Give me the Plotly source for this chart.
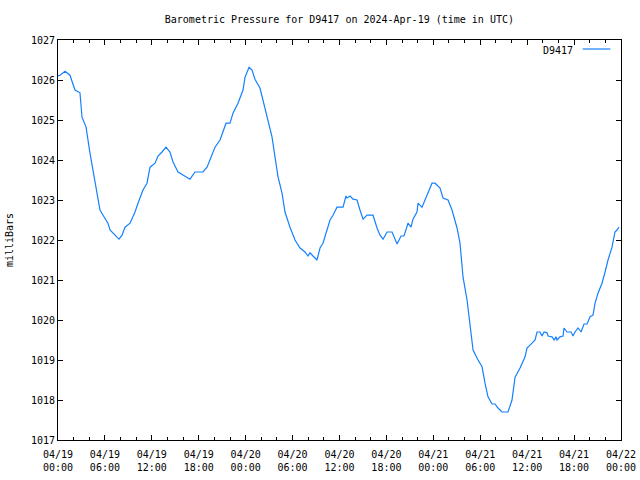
import datetime as dt
import plotly.graph_objects as go

# Hours since 2024-04-19 00:00 UTC and pressure (mbar)
hours = [0.0, 0.26, 0.9, 1.53, 2.17, 2.81, 3.07, 3.58, 4.09, 4.73, 5.37, 5.76, 6.39, 6.65,
         7.29, 7.8, 8.19, 8.57, 9.21, 9.85, 10.23, 10.87, 11.38, 11.77, 12.41, 12.79,
         13.3, 13.81, 14.32, 14.71, 15.35, 15.99, 16.88, 17.52, 18.54, 19.06, 19.44,
         20.08, 20.72, 21.49, 22.0, 22.38, 23.02, 23.66, 23.92, 24.43, 24.81, 25.19,
         25.83, 26.22, 26.47, 26.86, 27.37, 27.75, 28.14, 28.65, 29.03, 29.67, 30.31,
         30.95, 31.59, 31.97, 32.23, 32.61, 33.12, 33.51, 33.89, 34.4, 34.79, 35.17,
         35.68, 36.45, 36.83, 36.96, 37.35, 37.73, 38.24, 38.62, 39.01, 39.52, 40.29,
         40.8, 41.18, 41.57, 42.08, 42.72, 43.36, 43.87, 44.25, 44.76, 45.15, 45.4,
         45.91, 46.04, 46.55, 47.19, 47.83, 48.22, 48.86, 49.24, 49.88, 50.39, 51.03,
         51.41, 51.8, 52.31, 52.69, 53.08, 53.72, 54.23, 54.61, 54.99, 55.51, 55.89,
         56.27, 56.79, 57.55, 58.06, 58.45, 59.09, 59.73, 59.98, 60.62, 61.01, 61.26,
         61.64, 61.9, 62.16, 62.54, 62.67, 63.18, 63.44, 63.69, 63.82, 64.2, 64.59,
         64.71, 65.1, 65.61, 65.86, 66.12, 66.5, 66.89, 67.27, 67.66, 68.04, 68.42,
         68.68, 69.06, 69.57, 69.96, 70.34, 70.85, 71.23, 71.49, 71.74]
pressure = [1026.1, 1026.12, 1026.22, 1026.12, 1025.75, 1025.68, 1025.07, 1024.83, 1024.17,
            1023.5, 1022.75, 1022.62, 1022.42, 1022.25, 1022.12, 1022.02, 1022.12, 1022.32,
            1022.42, 1022.7, 1022.92, 1023.25, 1023.42, 1023.82, 1023.92, 1024.1, 1024.2,
            1024.32, 1024.2, 1023.95, 1023.7, 1023.62, 1023.52, 1023.7, 1023.7, 1023.82,
            1024.0, 1024.32, 1024.5, 1024.92, 1024.92, 1025.17, 1025.42, 1025.75, 1026.07,
            1026.32, 1026.25, 1026.02, 1025.8, 1025.5, 1025.25, 1025.0, 1024.58, 1024.08,
            1023.58, 1023.17, 1022.7, 1022.32, 1022.0, 1021.8, 1021.7, 1021.6, 1021.68,
            1021.6, 1021.5, 1021.8, 1021.92, 1022.25, 1022.5, 1022.62, 1022.82, 1022.82,
            1023.1, 1023.05, 1023.1, 1023.02, 1023.0, 1022.75, 1022.52, 1022.62, 1022.62,
            1022.3, 1022.12, 1022.02, 1022.2, 1022.2, 1021.9, 1022.1, 1022.1, 1022.42,
            1022.32, 1022.52, 1022.7, 1022.92, 1022.82, 1023.12, 1023.42, 1023.42, 1023.3,
            1023.05, 1023.0, 1022.75, 1022.3, 1021.92, 1021.07, 1020.5, 1019.82, 1019.25,
            1019.0, 1018.83, 1018.42, 1018.08, 1017.9, 1017.9, 1017.8, 1017.7, 1017.7,
            1018.0, 1018.57, 1018.8, 1019.08, 1019.3, 1019.42, 1019.5, 1019.7, 1019.7,
            1019.6, 1019.7, 1019.68, 1019.6, 1019.58, 1019.5, 1019.58, 1019.5, 1019.58,
            1019.6, 1019.8, 1019.7, 1019.7, 1019.6, 1019.7, 1019.8, 1019.7, 1019.9, 1019.9,
            1020.08, 1020.12, 1020.42, 1020.67, 1020.92, 1021.2, 1021.5, 1021.82, 1022.2,
            1022.25, 1022.32]

start = dt.datetime(2024, 4, 19, 0, 0)
end = dt.datetime(2024, 4, 22, 0, 0)
times = [start + dt.timedelta(hours=h) for h in hours]

LINE = "#1480ff"
FONT = "DejaVu Sans Mono"

fig = go.Figure()
fig.add_trace(go.Scatter(x=times, y=pressure, mode="lines", name="D9417",
                         line=dict(color=LINE, width=1.2), showlegend=False))

fig.update_layout(
    width=640, height=480,
    margin=dict(l=58, r=19, t=40, b=40),
    paper_bgcolor="white", plot_bgcolor="white",
    font=dict(family=FONT, size=10, color="black"),
    title=dict(text="Barometric Pressure for D9417 on 2024-Apr-19 (time in UTC)",
               x=0.5303, xanchor="center", y=0.96, yanchor="middle",
               font=dict(family=FONT, size=10, color="black")),
)
fig.update_xaxes(
    range=[start, end], type="date", automargin=False,
    tickmode="linear", tick0=start, dtick=6 * 3600 * 1000,
    tickformat="%m/%d<br>%H:%M", ticklabelstandoff=5,
    ticks="inside", ticklen=5, tickwidth=1, tickcolor="black",
    minor=dict(dtick=2 * 3600 * 1000, tick0=start, ticks="inside", ticklen=3,
               tickcolor="black"),
    showline=True, linecolor="black", linewidth=1, mirror="ticks",
    showgrid=False, zeroline=False,
)
fig.update_yaxes(
    range=[1017, 1027], tickmode="linear", tick0=1017, dtick=1, automargin=False,
    ticks="inside", ticklen=5, tickwidth=1, tickcolor="black",
    showline=True, linecolor="black", linewidth=1, mirror="ticks",
    showgrid=False, zeroline=False,
    title=dict(text="milliBars", standoff=15, font=dict(family=FONT, size=10)),
)

# gnuplot-style legend (text then line sample), in paper coordinates
fig.add_annotation(x=0.918, y=0.975, xref="paper", yref="paper", text="D9417",
                   showarrow=False, xanchor="right", yanchor="middle",
                   font=dict(family=FONT, size=10, color="black"))
fig.add_shape(type="line", xref="paper", yref="paper", x0=0.932, x1=0.981,
              y0=0.9775, y1=0.9775, line=dict(color=LINE, width=1.2))

fig.write_html("out.html")
